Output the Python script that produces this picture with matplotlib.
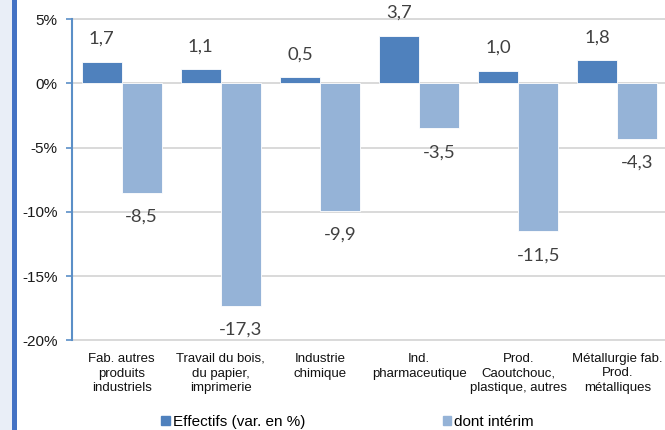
import matplotlib
matplotlib.use('Agg')
import matplotlib.pyplot as plt
from matplotlib.patches import Rectangle, Patch
import numpy as np

# categories and values
categories = ['Fab. autres\nproduits\nindustriels',
              'Travail du bois,\ndu papier,\nimprimerie',
              'Industrie\nchimique',
              'Ind.\npharmaceutique',
              'Prod.\nCaoutchouc,\nplastique, autres',
              'Métallurgie fab.\nProd.\nmétalliques']
effectifs = [1.7, 1.1, 0.5, 3.7, 1.0, 1.8]
interim = [-8.5, -17.3, -9.9, -3.5, -11.5, -4.3]
y_ticks = [5, 0, -5, -10, -15, -20]

plt.rcParams['font.family'] = ['Liberation Sans', 'DejaVu Sans']

fig = plt.figure(figsize=(6.65, 4.30), dpi=100)
# left frame strip
fig.patches.append(Rectangle((0, 0), 12/665, 1, transform=fig.transFigure,
                             facecolor='#e9eef7', edgecolor='none', zorder=0))
fig.patches.append(Rectangle((12/665, 0), 5/665, 1, transform=fig.transFigure,
                             facecolor='#4472c4', edgecolor='none', zorder=1))

ax = fig.add_axes([72/665, 1-340.3/430, 595/665, (340.3-19.3)/430])

x = np.arange(len(categories))
w = 0.403
ax.bar(x - w/2, effectifs, w, color='#4f81bd', edgecolor='white', linewidth=0.6, zorder=3)
ax.bar(x + w/2, interim, w, color='#95b3d7', edgecolor='white', linewidth=0.6, zorder=3)

for i in range(len(categories)):
    ax.annotate(f"{effectifs[i]:.1f}".replace('.', ','), (x[i] - w/2, effectifs[i]),
                xytext=(0, 16.5), textcoords='offset points', ha='center', va='center',
                fontsize=13.3, family='Lato', color='#404040')
    ax.annotate(f"{interim[i]:.1f}".replace('.', ','), (x[i] + w/2, interim[i]),
                xytext=(0, -17.5), textcoords='offset points', ha='center', va='center',
                fontsize=13.3, family='Lato', color='#404040')

ax.set_xlim(-0.5, len(categories) - 0.5)
ax.set_ylim(-20, 5)
ax.set_yticks(y_ticks)
ax.set_yticklabels([f"{t}%" for t in y_ticks])
ax.set_xticks(x)
ax.set_xticklabels(categories, fontsize=9.5, linespacing=1.3)
ax.tick_params(axis='x', length=0, pad=9, labelcolor='#111111')
ax.tick_params(axis='y', length=4, width=1.2, color='#5b8fc7', pad=6.5,
               labelsize=11, labelcolor='#1a1a1a')

ax.yaxis.grid(True, color='#d9d9d9', linewidth=1.4, zorder=0)
ax.set_axisbelow(True)
for s in ['top', 'bottom']:
    ax.spines[s].set_color('#d9d9d9')
    ax.spines[s].set_linewidth(1.4)
ax.spines['right'].set_visible(False)
ax.spines['left'].set_color('#5b8fc7')
ax.spines['left'].set_linewidth(1.5)
ax.spines['left'].set_zorder(4)

handles = [Patch(color='#4f81bd', label='Effectifs (var. en %)'),
           Patch(color='#95b3d7', label='dont intérim')]
fig.legend(handles=handles, loc='center', bbox_to_anchor=(347.5/665, 1-422/430),
           ncol=2, frameon=False, fontsize=11, handlelength=0.55, handleheight=0.55,
           handletextpad=0.2, columnspacing=9.0, borderpad=0, borderaxespad=0)

fig.savefig('out.png', dpi=100)
